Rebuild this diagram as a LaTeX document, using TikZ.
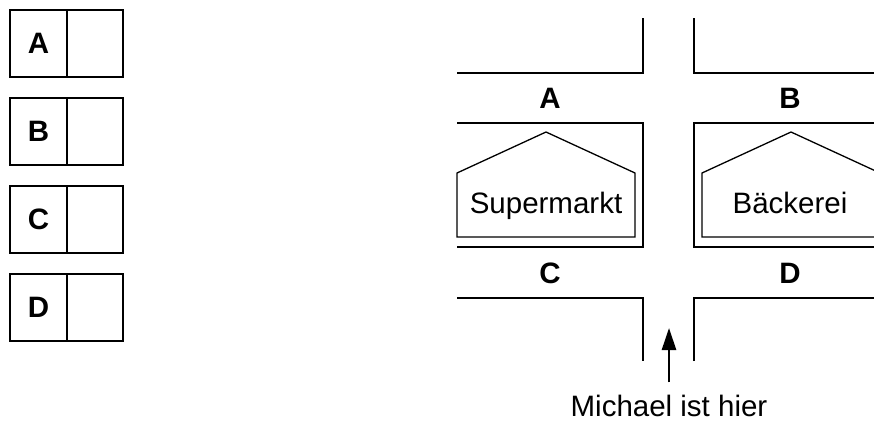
\documentclass[tikz,border=0pt]{standalone}
\usepackage{fontspec}
\setmainfont{Liberation Sans}
\usetikzlibrary{positioning,arrows.meta}

\tikzset{
  big/.style={font=\fontsize{29.5}{35}\selectfont, inner sep=0pt},
  cell/.style={draw, rectangle, line width=2.6pt, outer sep=0pt, inner sep=0pt, minimum height=67pt},
  street/.style={line width=2.6pt, line join=miter},
  house/.style={line width=1.3pt, line join=miter},
  arr/.style={-{Triangle[length=22pt,width=14pt]}, line width=2.6pt}
}

\begin{document}
\begin{tikzpicture}[x=1pt,y=-1pt]
\clip (0,0) rectangle (874,421);
% answer boxes
\foreach \l [count=\i] in {A,B,C,D} {
  \node[cell,big,minimum width=57pt] (lbl\l) at (38.5,{43.5+88*(\i-1)}) {\bfseries \l};
  \node[cell,minimum width=56pt,right=0pt of lbl\l] (ans\l) {};
}
% streets
\draw[street] (457,73) -- (643,73) -- (643,18);
\draw[street] (694,18) -- (694,73) -- (880,73);
\draw[street] (457,123) -- (643,123) -- (643,247) -- (457,247);
\draw[street] (880,123) -- (694,123) -- (694,247) -- (880,247);
\draw[street] (457,298) -- (643,298) -- (643,361);
\draw[street] (694,361) -- (694,298) -- (880,298);
% houses
\draw[house] (457,237) -- (457,173) -- (546,132) -- (635,173) -- (635,237) -- cycle;
\draw[house] (702,237) -- (702,173) -- (791,132) -- (880,173) -- (880,237) -- cycle;
\node[big,anchor=base] (super) at (546,213) {Supermarkt};
\node[big,anchor=base] (baecker) at (790,213) {Bäckerei};
% street labels
\node[big,anchor=base] (mapA) at (550,108) {\bfseries A};
\node[big,anchor=base] (mapB) at (790,108) {\bfseries B};
\node[big,anchor=base] (mapC) at (550,283) {\bfseries C};
\node[big,anchor=base] (mapD) at (790,283) {\bfseries D};
% Michael
\coordinate (here) at (669,328);
\node[big,anchor=base] (michael) at (669,416) {Michael ist hier};
\draw[arr,shorten <=12pt] (michael.north) -- (here);
\end{tikzpicture}
\end{document}
